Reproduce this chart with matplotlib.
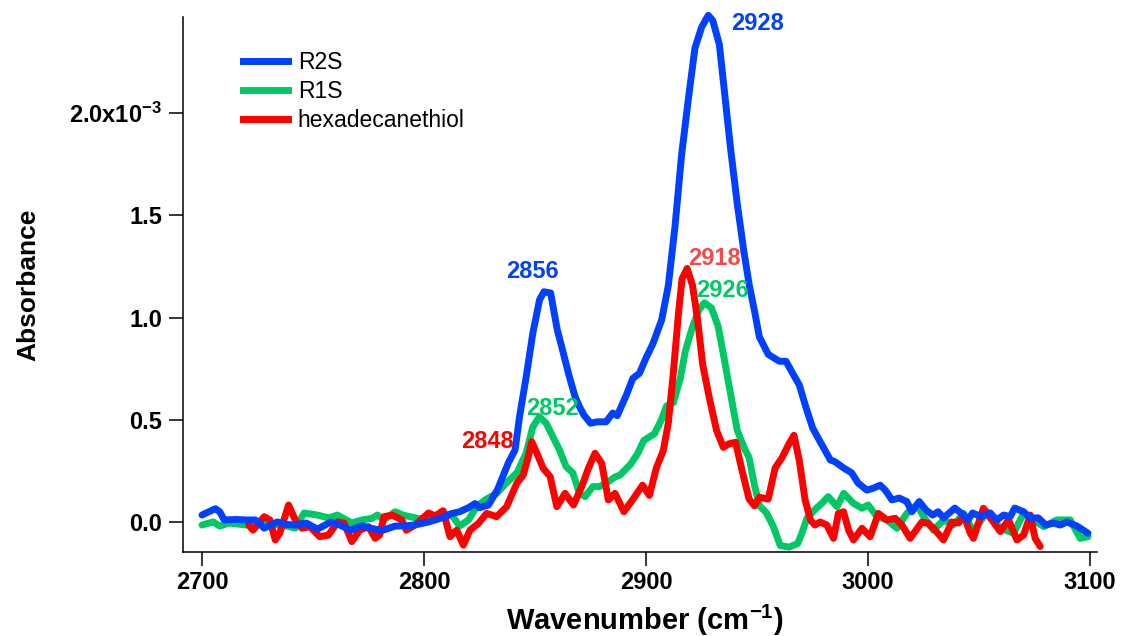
import numpy as np
import matplotlib
matplotlib.use("Agg")
import matplotlib.pyplot as plt
from matplotlib.lines import Line2D

plt.rcParams['font.family'] = ['Liberation Sans', 'DejaVu Sans']
plt.rcParams['mathtext.fontset'] = 'custom'
plt.rcParams['mathtext.rm'] = 'Liberation Sans:bold'
plt.rcParams['mathtext.default'] = 'rm'
plt.rcParams['axes.unicode_minus'] = False

# absorbance values are in units of 1e-3
r2s_wn = [2700, 2706, 2708, 2710, 2715, 2720, 2724, 2728, 2734, 2738, 2742, 2747,
          2752, 2758, 2762, 2767, 2772, 2775, 2781, 2787, 2793, 2797, 2802, 2808,
          2812, 2816, 2820, 2823, 2825, 2829, 2833, 2838, 2841, 2843, 2846, 2849,
          2852, 2854, 2857, 2860, 2862, 2865, 2868, 2870, 2872, 2875, 2878, 2882,
          2885, 2887, 2891, 2894, 2897, 2900, 2903, 2907, 2910, 2913, 2916, 2919,
          2922, 2925, 2928, 2930, 2933, 2935.5, 2938, 2941, 2944, 2946.5, 2949, 2951,
          2955, 2960, 2963, 2966, 2969, 2972, 2975, 2978, 2983, 2985, 2989, 2992.6,
          2995.5, 2999.4, 3002, 3005.4, 3007.7, 3010.7, 3014, 3017.4, 3019.7, 3023,
          3026, 3029, 3031.5, 3034, 3039, 3043, 3045, 3047, 3051, 3055, 3058, 3061,
          3064, 3066, 3070, 3073, 3076.6, 3080, 3083.5, 3086.5, 3089.5, 3094, 3099]
r2s_abs = [0.034, 0.065, 0.05, 0.01, 0.012, 0.01, 0.01, -0.03, 0.0, -0.012, -0.015, -0.005,
           -0.035, 0.0, -0.015, -0.04, -0.018, -0.028, -0.042, -0.02, -0.018, -0.012, 0.0, 0.02,
           0.04, 0.05, 0.07, 0.09, 0.07, 0.083, 0.156, 0.29, 0.352, 0.515, 0.71, 0.924,
           1.086, 1.126, 1.12, 0.94, 0.857, 0.728, 0.613, 0.564, 0.523, 0.483, 0.49, 0.49,
           0.533, 0.52, 0.618, 0.702, 0.727, 0.803, 0.87, 0.988, 1.156, 1.443, 1.797, 2.066,
           2.318, 2.42, 2.478, 2.453, 2.335, 2.083, 1.83, 1.561, 1.325, 1.156, 1.022, 0.905,
           0.82, 0.786, 0.786, 0.727, 0.67, 0.56, 0.46, 0.4, 0.303, 0.295, 0.264, 0.24,
           0.19, 0.156, 0.164, 0.18, 0.156, 0.108, 0.117, 0.1, 0.05, 0.1,
           0.059, 0.034, 0.05, 0.02, 0.068, 0.034, 0.01, 0.044, 0.026, 0.044, 0.01, 0.034,
           0.026, 0.068, 0.05, 0.02, 0.02, -0.015, -0.005, -0.015, 0.0, -0.02, -0.055]

r1s_wn = [2700, 2705, 2708, 2712, 2720, 2726, 2732, 2738, 2742, 2746, 2752, 2757,
          2761, 2767.5, 2772, 2776.6, 2779, 2782, 2787, 2790.5, 2796, 2802, 2808.6, 2813,
          2816, 2820, 2823.7, 2827.5, 2832.7, 2837, 2841.8, 2846, 2849, 2852, 2855, 2858,
          2861, 2864, 2867, 2870, 2872.5, 2876, 2879, 2882, 2886, 2888.3, 2892.9, 2896,
          2899, 2903.8, 2906.9, 2909.2, 2912.3, 2915.4, 2917.7, 2920.9, 2923.9, 2926.3, 2929.4, 2932.5,
          2934.8, 2937.9, 2941, 2944.1, 2946.4, 2948.8, 2951.1, 2954.2, 2957.3, 2960.4, 2964.3, 2968.2,
          2970, 2972.5, 2976, 2979, 2982, 2986, 2989, 2993.4, 2997.2, 3000, 3004, 3008.4,
          3013, 3017.4, 3022, 3025, 3029.4, 3034, 3038.4, 3043, 3047.4, 3053.5, 3059.5, 3065.5,
          3070, 3074.5, 3079, 3085, 3091, 3095.5, 3099]
r1s_abs = [-0.015, 0.0, -0.02, -0.005, -0.015, -0.01, -0.01, -0.02, -0.03, 0.044, 0.034, 0.02,
           0.034, -0.005, 0.01, 0.018, 0.034, 0.01, 0.05, 0.034, 0.02, 0.01, 0.042, 0.026,
           -0.02, 0.01, 0.075, 0.108, 0.14, 0.19, 0.24, 0.337, 0.466, 0.515, 0.483, 0.417,
           0.352, 0.27, 0.24, 0.14, 0.124, 0.173, 0.173, 0.19, 0.22, 0.23, 0.281, 0.331,
           0.399, 0.432, 0.5, 0.567, 0.584, 0.702, 0.837, 0.955, 1.039, 1.072, 1.047, 0.955,
           0.82, 0.635, 0.45, 0.365, 0.314, 0.18, 0.079, 0.045, -0.022, -0.115, -0.123, -0.106,
           -0.06, 0.02, 0.06, 0.09, 0.124, 0.075, 0.14, 0.091, 0.067, 0.083, 0.026, 0.01,
           -0.031, 0.042, 0.083, 0.026, -0.04, 0.01, -0.015, 0.042, -0.047, 0.05, -0.031, -0.055,
           0.042, 0.01, -0.023, 0.01, 0.01, -0.08, -0.072]

hdt_wn = [2721, 2723, 2728, 2730.6, 2733, 2735, 2739, 2742, 2745, 2748.6, 2753, 2757,
          2761, 2764, 2767.5, 2771, 2775, 2778, 2780, 2782, 2785.6, 2790, 2792, 2796,
          2802, 2805, 2808.6, 2811.7, 2814.7, 2817.7, 2820.7, 2824.5, 2828.2, 2832.7, 2837.2, 2841.8,
          2844.7, 2847, 2848.5, 2850.8, 2853.7, 2856.8, 2859.8, 2863.5, 2867.3, 2871, 2874, 2877,
          2880, 2883, 2886, 2890, 2894, 2898.4, 2901.5, 2904.6, 2907.7, 2910, 2912.3, 2914.6,
          2916.2, 2918.5, 2920.9, 2923.2, 2925.5, 2928.6, 2931.7, 2934.8, 2937.2, 2940.3, 2943.3, 2946.4,
          2948.8, 2951.1, 2955, 2958.1, 2961.2, 2964.3, 2966.6, 2969, 2971.6, 2974, 2976, 2978.4,
          2981.4, 2984.4, 2986.6, 2988.9, 2991.2, 2993.4, 2997.2, 3000.9, 3004.6, 3008.4, 3012.2, 3015.2,
          3018.9, 3024.2, 3027.2, 3030.2, 3033.9, 3037.7, 3040.7, 3043, 3046, 3047.4, 3051.9, 3055.7,
          3059.5, 3063.2, 3067, 3070, 3073, 3075.2, 3077.5]
hdt_abs = [-0.015, -0.04, 0.026, 0.01, -0.088, -0.055, 0.083, 0.01, -0.03, -0.023, -0.072, -0.064,
           0.0, -0.005, -0.096, -0.04, -0.023, -0.08, -0.064, 0.026, 0.034, 0.01, -0.04, -0.015,
           0.044, 0.03, 0.055, -0.072, -0.04, -0.113, -0.04, -0.007, 0.042, 0.026, 0.075, 0.19,
           0.23, 0.32, 0.393, 0.336, 0.262, 0.222, 0.075, 0.14, 0.083, 0.173, 0.262, 0.336,
           0.287, 0.108, 0.14, 0.05, 0.11, 0.18, 0.13, 0.264, 0.348, 0.483, 0.735, 1.022,
           1.19, 1.24, 1.157, 0.988, 0.769, 0.6, 0.449, 0.365, 0.382, 0.39, 0.247, 0.112,
           0.079, 0.121, 0.112, 0.264, 0.314, 0.382, 0.424, 0.3, 0.108, 0.01, -0.015, 0.0,
           -0.015, -0.08, 0.042, 0.05, -0.04, -0.088, -0.031, -0.072, 0.042, 0.01, 0.018, -0.015,
           -0.08, 0.0, -0.008, -0.04, -0.088, 0.0, -0.005, 0.034, -0.055, -0.08, 0.067, 0.01,
           -0.047, 0.01, -0.088, -0.064, 0.034, -0.08, -0.12]

# peak labels: (text, x, y, colour)
peak_labels = [('2928', 2950, 2.44, '#0040ff'),
               ('2856', 2848.6, 1.227, '#0040ff'),
               ('2918', 2930.6, 1.29, '#f24a4a'),
               ('2926', 2934.5, 1.132, '#00c864'),
               ('2852', 2857.7, 0.557, '#00c864'),
               ('2848', 2828.6, 0.396, '#ff0000')]

x_ticks = [2700, 2800, 2900, 3000, 3100]
y_ticks = [0.0, 0.5, 1.0, 1.5, 2.0]
y_ticklabels = ['0.0', '0.5', '1.0', '1.5', r'2.0x10$^{-3}$']

blue = '#0040ff'
green = '#00c864'
red = '#ff0000'

fig = plt.figure(figsize=(11.22, 6.36), dpi=100)
ax = fig.add_axes([0.163, 0.132, 0.815, 0.841])

line_kw = dict(lw=5, solid_joinstyle='round', solid_capstyle='round', clip_on=False)
ax.plot(r1s_wn, r1s_abs, color=green, zorder=2, **line_kw)
ax.plot(hdt_wn, hdt_abs, color=red, zorder=3, **line_kw)
ax.plot(r2s_wn, r2s_abs, color=blue, zorder=4, **line_kw)

for txt, x, y, c in peak_labels:
    ax.text(x, y, txt, color=c, fontsize=17, fontweight='bold',
            ha='center', va='center', zorder=6)

ax.set_xlim(2691.4, 3103.2)
ax.set_ylim(-0.147, 2.469)
ax.set_xticks(x_ticks)
ax.set_yticks(y_ticks)
ax.set_yticklabels(y_ticklabels)

for s in ['top', 'right']:
    ax.spines[s].set_visible(False)
for s in ['left', 'bottom']:
    ax.spines[s].set_linewidth(1.1)

ax.tick_params(axis='both', direction='out', length=10, width=1.1,
               labelsize=17)
ax.tick_params(axis='x', pad=4)
ax.tick_params(axis='y', pad=5)
for lab in ax.get_xticklabels() + ax.get_yticklabels():
    lab.set_fontweight('bold')

ax.set_xlabel(r'Wavenumber (cm$^{-1}$)', fontsize=21, fontweight='bold')
ax.xaxis.set_label_coords(0.505, -0.094)
ax.set_ylabel('Absorbance', fontsize=19, fontweight='bold')
ax.yaxis.set_label_coords(-0.156, 0.5)

handles = [Line2D([], [], color=blue, lw=5),
           Line2D([], [], color=green, lw=5),
           Line2D([], [], color=red, lw=5)]
ax.legend(handles, ['R2S', 'R1S', 'hexadecanethiol'], loc='upper left',
          bbox_to_anchor=(0.0656, 0.937), frameon=False, fontsize=16.5,
          handlelength=1.95, handletextpad=0.45, labelspacing=0.26,
          borderpad=0, borderaxespad=0)

fig.savefig('out.png', dpi=100)
